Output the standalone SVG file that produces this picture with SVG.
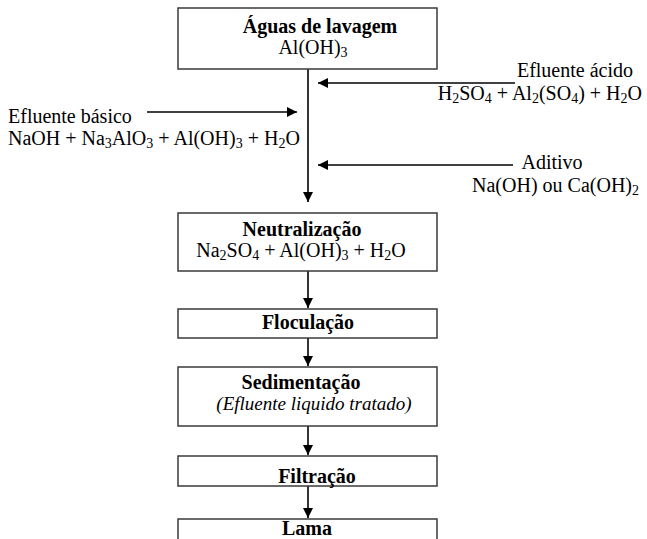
<svg xmlns="http://www.w3.org/2000/svg" width="647" height="539" viewBox="0 0 647 539">
  <style>
    .box { fill: #ffffff; stroke: #3a3a3a; stroke-width: 1.5; }
    .t { font-family: "Liberation Serif", "Times New Roman", serif; font-size: 20px; fill: #000; }
    .b { font-weight: bold; }
    .i { font-style: italic; font-size: 19px; }
    .m { text-anchor: middle; }
    .e { text-anchor: end; }
    .s { font-size: 14px; }
    .ln { stroke: #000; stroke-width: 1.6; fill: none; }
  </style>
  <defs>
    <marker id="head" viewBox="0 0 10 10" refX="10" refY="5" markerWidth="10" markerHeight="10" markerUnits="userSpaceOnUse" orient="auto">
      <path d="M0,0 L10,5 L0,10 Z" fill="#000"/>
    </marker>
  </defs>
  <rect width="647" height="539" fill="#ffffff"/>

  <!-- connectors -->
  <g id="connectors">
    <line class="ln" x1="308" y1="69" x2="308" y2="202" marker-end="url(#head)"/>
    <line class="ln" x1="515" y1="83" x2="318" y2="83" marker-end="url(#head)"/>
    <line class="ln" x1="513" y1="165" x2="318" y2="165" marker-end="url(#head)"/>
    <line class="ln" x1="147" y1="112" x2="297" y2="112" marker-end="url(#head)"/>
    <line class="ln" x1="308" y1="271" x2="308" y2="308" marker-end="url(#head)"/>
    <line class="ln" x1="308" y1="338" x2="308" y2="366" marker-end="url(#head)"/>
    <line class="ln" x1="308" y1="426" x2="308" y2="455" marker-end="url(#head)"/>
    <line class="ln" x1="308" y1="486" x2="308" y2="518" marker-end="url(#head)"/>
  </g>

  <!-- process steps -->
  <g id="aguas">
    <rect class="box" x="178" y="8" width="259" height="61"/>
    <text class="t b m" x="320" y="33">Águas de lavagem</text>
    <text class="t m" x="313" y="54">Al(OH)<tspan class="s" dy="3">3</tspan></text>
  </g>

  <g id="neutralizacao">
    <rect class="box" x="178" y="213" width="259" height="58"/>
    <text class="t b m" x="302" y="236">Neutralização</text>
    <text class="t m" x="301" y="257">Na<tspan class="s" dy="3">2</tspan><tspan dy="-3">SO</tspan><tspan class="s" dy="3">4</tspan><tspan dy="-3"> + Al(OH)</tspan><tspan class="s" dy="3">3</tspan><tspan dy="-3"> + H</tspan><tspan class="s" dy="3">2</tspan><tspan dy="-3">O</tspan></text>
  </g>

  <g id="floculacao">
    <rect class="box" x="178" y="309" width="259" height="29"/>
    <text class="t b m" x="308" y="329">Floculação</text>
  </g>

  <g id="sedimentacao">
    <rect class="box" x="178" y="367" width="259" height="59"/>
    <text class="t b m" x="301" y="389">Sedimentação</text>
    <text class="t i m" x="314" y="410">(Efluente liquido tratado)</text>
  </g>

  <g id="filtracao">
    <rect class="box" x="178" y="456" width="259" height="30"/>
    <text class="t b m" x="317" y="483">Filtração</text>
  </g>

  <g id="lama">
    <rect class="box" x="178" y="519" width="259" height="40"/>
    <text class="t b m" x="307" y="535">Lama</text>
  </g>

  <!-- side streams -->
  <g id="efluente-basico">
    <text class="t" x="8" y="123">Efluente básico</text>
    <text class="t" x="8" y="145">NaOH + Na<tspan class="s" dy="3">3</tspan><tspan dy="-3">AlO</tspan><tspan class="s" dy="3">3</tspan><tspan dy="-3"> + Al(OH)</tspan><tspan class="s" dy="3">3</tspan><tspan dy="-3"> + H</tspan><tspan class="s" dy="3">2</tspan><tspan dy="-3">O</tspan></text>
  </g>

  <g id="efluente-acido">
    <text class="t e" x="633" y="77">Efluente ácido</text>
    <text class="t e" x="642" y="100">H<tspan class="s" dy="3">2</tspan><tspan dy="-3">SO</tspan><tspan class="s" dy="3">4</tspan><tspan dy="-3"> + Al</tspan><tspan class="s" dy="3">2</tspan><tspan dy="-3">(SO</tspan><tspan class="s" dy="3">4</tspan><tspan dy="-3">) + H</tspan><tspan class="s" dy="3">2</tspan><tspan dy="-3">O</tspan></text>
  </g>

  <g id="aditivo">
    <text class="t m" x="552" y="169">Aditivo</text>
    <text class="t e" x="639" y="192">Na(OH) ou Ca(OH)<tspan class="s" dy="3">2</tspan></text>
  </g>
</svg>
